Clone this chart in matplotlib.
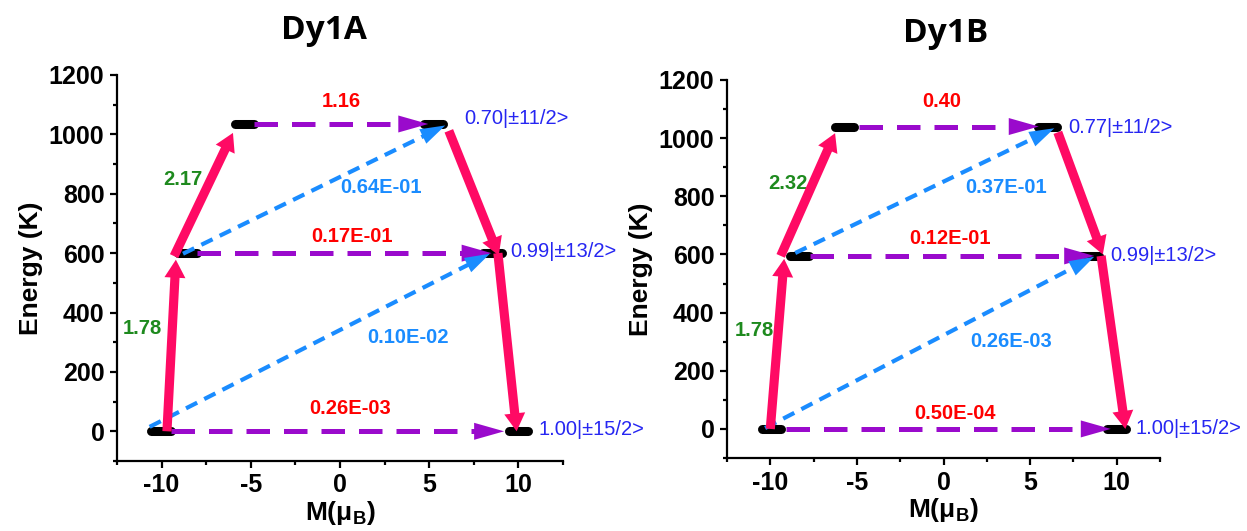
import numpy as np
import matplotlib.pyplot as plt
from matplotlib.patches import Polygon

# --- Data: Dy1A ---
a_energy = [0, 600, 1035]
a_m_left = [-10.05, -8.55, -5.35]
a_m_right = [10.0, 8.55, 5.25]
a_states = ["1.00|±15/2>", "0.99|±13/2>", "0.70|±11/2>"]
a_qtm = ["0.26E-03", "0.17E-01", "1.16"]
a_oba = ["0.10E-02", "0.64E-01"]
a_orbach = ["1.78", "2.17"]
# relaxation path segments (M, E) start -> end
a_path_start = [(-9.7, 0), (-9.3, 590), (6.1, 1012), (8.85, 600)]
a_path_end = [(-9.2, 578), (-6.0, 1005), (8.9, 592), (9.9, 0)]
a_oba_start = [(-10.67, 15), (-8.8, 598)]
a_oba_end = [(8.4, 598), (5.9, 1030)]
a_qtm_start = [-9.45, -8.0, -4.8]
a_qtm_end = [9.2, 8.5, 4.95]

# --- Data: Dy1B ---
b_energy = [0, 595, 1040]
b_m_left = [-9.95, -8.3, -5.7]
b_m_right = [10.0, 8.45, 6.0]
b_states = ["1.00|±15/2>", "0.99|±13/2>", "0.77|±11/2>"]
b_qtm = ["0.50E-04", "0.12E-01", "0.40"]
b_oba = ["0.26E-03", "0.37E-01"]
b_orbach = ["1.78", "2.32"]
b_path_start = [(-10.0, 0), (-9.4, 595), (6.6, 1020), (9.1, 595)]
b_path_end = [(-9.2, 585), (-6.26, 1017), (9.2, 600), (10.5, 0)]
b_oba_start = [(-10.3, 3), (-8.56, 605)]
b_oba_end = [(8.7, 592), (6.4, 1034)]
b_qtm_start = [-9.1, -7.7, -4.9]
b_qtm_end = [9.66, 8.7, 5.5]

# --- Layout (label anchors in data units) ---
a_layout = dict(
    qtm_xy=[(0.56, 77), (0.67, 655), (0.1, 1112)],
    oba_xy=[(3.8, 316), (2.3, 820)],
    orbach_xy=[(-11.07, 346), (-8.82, 847)],
    state_xy=[(11.1, 7), (9.55, 605), (6.97, 1052)],
)
b_layout = dict(
    qtm_xy=[(0.69, 52), (0.35, 655), (-0.1, 1127)],
    oba_xy=[(3.9, 300), (3.62, 831)],
    orbach_xy=[(-10.9, 338), (-8.97, 845)],
    state_xy=[(11.1, 0), (9.65, 597), (7.18, 1038)],
)

PINK = "#FF0A64"
SKY = "#1A8CFF"
VIOLET = "#9A0ACC"
RED = "#FF0000"
GREEN = "#1E8A1E"
STATE_BLUE = "#2626F2"

plt.rcParams["font.family"] = ["Liberation Sans", "DejaVu Sans"]
plt.rcParams["mathtext.fontset"] = "custom"
plt.rcParams["mathtext.bf"] = "Liberation Sans:bold"
plt.rcParams["mathtext.rm"] = "Liberation Sans"
plt.rcParams["axes.unicode_minus"] = False


def draw_arrow(ax, start, end, color, lw, ls, head_len, head_w, dashes=None, z=3):
    # line in data units, head built in pixel space so it keeps its shape
    T = ax.transData
    p0 = T.transform(start)
    p1 = T.transform(end)
    d = p1 - p0
    u = d / np.hypot(*d)
    n = np.array([-u[1], u[0]])
    base = p1 - u * head_len
    seg = T.inverted().transform([p0, base + u * 1.5])
    line, = ax.plot(seg[:, 0], seg[:, 1], color=color, lw=lw, ls=ls,
                    solid_capstyle="butt", dash_capstyle="butt", zorder=z, clip_on=False)
    if dashes is not None:
        line.set_dashes(dashes)
    tri = T.inverted().transform([p1, base + n * head_w / 2, base - n * head_w / 2])
    ax.add_patch(Polygon(tri, closed=True, facecolor=color, edgecolor="none",
                         zorder=z, clip_on=False))


def draw_panel(ax, energy, m_left, m_right, states, qtm, oba, orbach,
               path_start, path_end, oba_start, oba_end, qtm_start, qtm_end, layout):
    ax.set_xlim(-12.5, 12.5)
    ax.set_ylim(-100, 1200)
    for side in ("top", "right"):
        ax.spines[side].set_visible(False)
    for side in ("left", "bottom"):
        ax.spines[side].set_linewidth(1.6)
    ax.set_xticks([-10, -5, 0, 5, 10])
    ax.set_xticks(np.arange(-12.5, 12.6, 2.5), minor=True)
    ax.set_yticks(np.arange(0, 1201, 200))
    ax.set_yticks(np.arange(-100, 1201, 100), minor=True)
    ax.tick_params(which="major", direction="out", length=5, width=1.6, labelsize=18, pad=4)
    ax.tick_params(which="minor", direction="out", length=3, width=1.6)
    for lab in ax.get_xticklabels() + ax.get_yticklabels():
        lab.set_fontweight("bold")
    ax.set_ylabel("Energy (K)", fontsize=19, fontweight="bold", labelpad=4)
    ax.set_xlabel(r"M(μ$_\mathbf{B}$)", fontsize=19, fontweight="bold", labelpad=1)

    # energy levels
    half = 0.55
    for e, ml, mr in zip(energy, m_left, m_right):
        for m in (ml, mr):
            ax.plot([m - half, m + half], [e, e], color="black", lw=6.5,
                    solid_capstyle="round", zorder=2, clip_on=False)

    # QTM / TA-QTM horizontal arrows
    for e, x0, x1 in zip(energy, qtm_start, qtm_end):
        draw_arrow(ax, (x0, e), (x1, e), VIOLET, 3.6, "--", 30, 17, dashes=(4.7, 2.8))

    # Orbach / Raman diagonal arrows
    for s, t in zip(oba_start, oba_end):
        draw_arrow(ax, s, t, SKY, 3.0, "--", 25, 16, dashes=(3.0, 1.9))

    # most probable relaxation path
    for s, t in zip(path_start, path_end):
        draw_arrow(ax, s, t, PINK, 6.6, "-", 18, 21, z=4)

    txt = dict(fontsize=14.5, fontweight="bold", ha="center", va="center", clip_on=False)
    for s, (x, y) in zip(qtm, layout["qtm_xy"]):
        ax.text(x, y, s, color=RED, **txt)
    for s, (x, y) in zip(oba, layout["oba_xy"]):
        ax.text(x, y, s, color=SKY, **txt)
    for s, (x, y) in zip(orbach, layout["orbach_xy"]):
        ax.text(x, y, s, color=GREEN, **txt)
    for s, (x, y) in zip(states, layout["state_xy"]):
        ax.text(x, y, s, color=STATE_BLUE, fontsize=14.5, ha="left", va="center",
                clip_on=False)


fig = plt.figure(figsize=(12.47, 5.31), dpi=100)
ax_a = fig.add_axes([117 / 1247, 1 - 461 / 531, 446 / 1247, 386 / 531])
ax_b = fig.add_axes([727 / 1247, 1 - 458 / 531, 433 / 1247, 378 / 531])

draw_panel(ax_a, a_energy, a_m_left, a_m_right, a_states, a_qtm, a_oba, a_orbach,
           a_path_start, a_path_end, a_oba_start, a_oba_end, a_qtm_start, a_qtm_end,
           a_layout)
draw_panel(ax_b, b_energy, b_m_left, b_m_right, b_states, b_qtm, b_oba, b_orbach,
           b_path_start, b_path_end, b_oba_start, b_oba_end, b_qtm_start, b_qtm_end,
           b_layout)

title_font = ["Open Sans", "DejaVu Sans"]
fig.text(324 / 1247, 1 - 31 / 531, "Dy1A", fontsize=24, fontweight="bold",
         family=title_font, ha="center", va="center")
fig.text(946 / 1247, 1 - 33 / 531, "Dy1B", fontsize=24, fontweight="bold",
         family=title_font, ha="center", va="center")

fig.savefig("out.png", dpi=100)
